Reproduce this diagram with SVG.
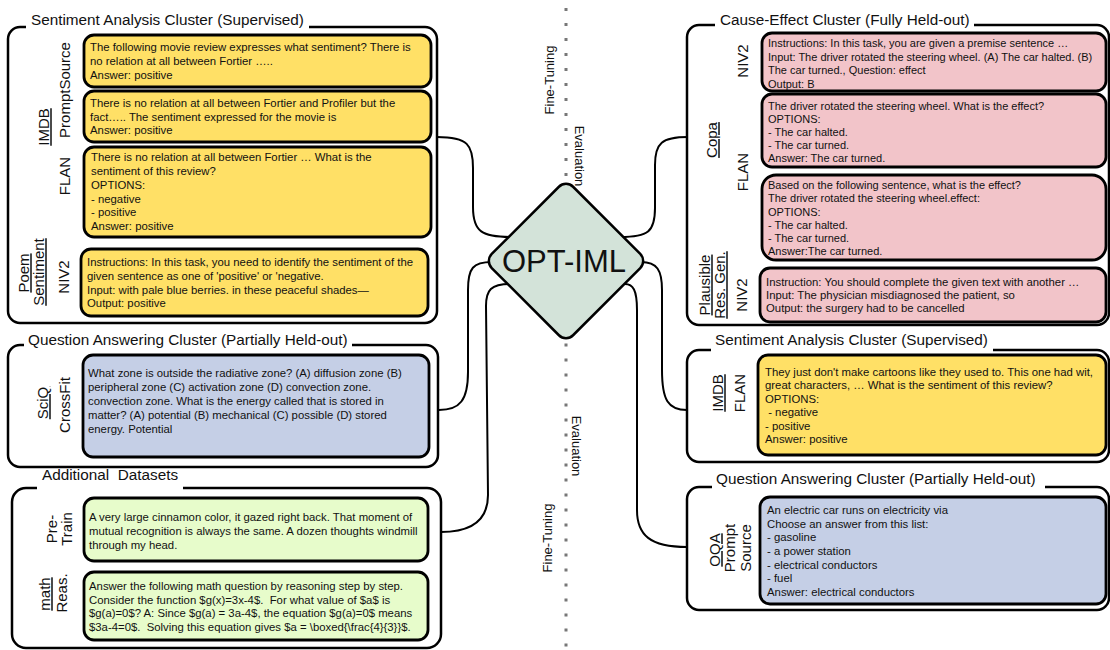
<svg xmlns="http://www.w3.org/2000/svg" width="1110" height="650" viewBox="0 0 1110 650">
<style>
.ob{fill:#fff;stroke:#000;stroke-width:2.5}
.ib{stroke:#000;stroke-width:2.8}
.y{fill:#FFE066}
.p{fill:#F2C4C9}
.b{fill:#C5CFE6}
.g{fill:#E7FCCB}
.bg{fill:#fff}
.t{font-family:"Liberation Sans",Arial,sans-serif;font-size:11.35px;fill:#111;white-space:pre}
.tc{font-family:"Liberation Sans",Arial,sans-serif;font-size:11px;fill:#111;white-space:pre}
.ttl{font-family:"Liberation Sans",Arial,sans-serif;font-size:15.3px;fill:#111;white-space:pre}
.lb{font-family:"Liberation Sans",Arial,sans-serif;font-size:15px;fill:#111;text-anchor:middle}
.u{text-decoration:underline}
.sm{font-family:"Liberation Sans",Arial,sans-serif;font-size:13px;fill:#111;text-anchor:middle}
.conn{fill:none;stroke:#000;stroke-width:2}
.dot{fill:none;stroke:#777;stroke-width:3;stroke-dasharray:3 12}
</style>

<g id="connectors">
<path class="conn" d="M437,137 C468,137 473,145 473,168 L473,207 C473,232 482,237 512,237"/>
<path class="conn" d="M620,237 C648,237 655,232 655,208 L655,165 C655,143 662,137 688,137"/>
<path class="conn" d="M492,262 C473,262 468,268 468,290 L468,372 C468,400 460,410 439,410"/>
<path class="conn" d="M510,284 C491,284 486,290 486,306 L488,495 C488,520 472,532 441,532"/>
<path class="conn" d="M641,262 C657,262 662,270 662,290 L662,370 C662,400 668,410 687,410"/>
<path class="conn" d="M625,284 C633,284 637,290 637,310 L637,510 C637,535 650,547 687,547"/>
</g>

<g id="divider">
<line class="dot" x1="566" y1="8" x2="566" y2="185"/>
<line class="dot" x1="566" y1="343.5" x2="566" y2="650"/>
<text class="sm" transform="translate(549,80) rotate(-90)" dy="0.35em">Fine-Tuning</text>
<text class="sm" transform="translate(580,156) rotate(90)" dy="0.35em">Evaluation</text>
<text class="sm" transform="translate(577,446) rotate(90)" dy="0.35em">Evaluation</text>
<text class="sm" transform="translate(547,538) rotate(-90)" dy="0.35em">Fine-Tuning</text>
</g>

<g id="opt-iml">
<rect x="-57.5" y="-57.5" width="115" height="115" rx="10" transform="translate(566,261) rotate(45)" fill="#D3E3D9" stroke="#000" stroke-width="2.5"/>
<text x="564" y="272" font-family="Liberation Sans, Arial, sans-serif" font-size="31" text-anchor="middle" fill="#111">OPT-IML</text>
</g>

<g id="left-sentiment">
<rect class="ob" x="8" y="27" width="429" height="296" rx="12"/>
<rect class="bg" x="26" y="14" width="283" height="18"/>
<text class="ttl" x="31" y="25">Sentiment Analysis Cluster (Supervised)</text>
<rect class="ib y" x="84" y="35" width="347" height="52" rx="10"/>
<text class="t" x="90" y="51">The following movie review expresses what sentiment? There is</text>
<text class="t" x="90" y="65">no relation at all between Fortier …..</text>
<text class="t" x="90" y="79">Answer: positive</text>
<rect class="ib y" x="84" y="91" width="347" height="51" rx="10"/>
<text class="t" x="90" y="107">There is no relation at all between Fortier and Profiler but the</text>
<text class="t" x="90" y="121">fact….. The sentiment expressed for the movie is</text>
<text class="t" x="90" y="134">Answer: positive</text>
<rect class="ib y" x="84" y="147" width="347" height="90" rx="10"/>
<text class="t" x="91" y="161">There is no relation at all between Fortier … What is the</text>
<text class="t" x="91" y="175">sentiment of this review?</text>
<text class="t" x="91" y="189">OPTIONS:</text>
<text class="t" x="91" y="202.5">- negative</text>
<text class="t" x="91" y="216">- positive</text>
<text class="t" x="91" y="230">Answer: positive</text>
<rect class="ib y" x="81" y="249" width="347" height="67" rx="10"/>
<text class="t" x="87" y="266">Instructions: In this task, you need to identify the sentiment of the</text>
<text class="t" x="87" y="280">given sentence as one of 'positive' or 'negative.</text>
<text class="t" x="87" y="294">Input: with pale blue berries. in these peaceful shades—</text>
<text class="t" x="87" y="307">Output: positive</text>
<text class="lb" transform="translate(65,90) rotate(-90)" dy="0.35em">PromptSource</text>
<text class="lb u" transform="translate(44,127) rotate(-90)" dy="0.35em">IMDB</text>
<text class="lb" transform="translate(65,176) rotate(-90)" dy="0.35em">FLAN</text>
<text class="lb u" transform="translate(24,273) rotate(-90)" dy="0.35em">Poem</text>
<text class="lb u" transform="translate(39,272) rotate(-90)" dy="0.35em">Sentiment</text>
<text class="lb" transform="translate(64,277) rotate(-90)" dy="0.35em">NIV2</text>
</g>

<g id="left-qa">
<rect class="ob" x="8" y="345" width="430" height="122" rx="12"/>
<rect class="bg" x="24" y="332" width="328" height="18"/>
<text class="ttl" x="28" y="345">Question Answering Cluster (Partially Held-out)</text>
<rect class="ib b" x="83" y="355" width="346" height="102" rx="10"/>
<text class="t" x="88" y="377">What zone is outside the radiative zone? (A) diffusion zone (B)</text>
<text class="t" x="88" y="391">peripheral zone (C) activation zone (D) convection zone.</text>
<text class="t" x="88" y="405">convection zone. What is the energy called that is stored in</text>
<text class="t" x="88" y="419">matter? (A) potential (B) mechanical (C) possible (D) stored</text>
<text class="t" x="88" y="433">energy. Potential</text>
<text class="lb u" transform="translate(43,403) rotate(-90)" dy="0.35em">SciQ</text>
<text class="lb" transform="translate(65,405) rotate(-90)" dy="0.35em">CrossFit</text>
</g>

<g id="left-additional">
<rect class="ob" x="12" y="488" width="429" height="160" rx="14"/>
<rect class="bg" x="37" y="470" width="146" height="22"/>
<text class="ttl" x="42" y="480">Additional  Datasets</text>
<rect class="ib g" x="84" y="498" width="344" height="63" rx="10"/>
<text class="t" x="89" y="521">A very large cinnamon color, it gazed right back. That moment of</text>
<text class="t" x="89" y="535">mutual recognition is always the same. A dozen thoughts windmill</text>
<text class="t" x="89" y="549">through my head.</text>
<rect class="ib g" x="84" y="572" width="344" height="68" rx="10"/>
<text class="t" x="89" y="590">Answer the following math question by reasoning step by step.</text>
<text class="t" x="89" y="604">Consider the function $g(x)=3x-4$.  For what value of $a$ is</text>
<text class="t" x="89" y="617">$g(a)=0$? A: Since $g(a) = 3a-4$, the equation $g(a)=0$ means</text>
<text class="t" x="89" y="631">$3a-4=0$.  Solving this equation gives $a = \boxed{\frac{4}{3}}$.</text>
<text class="lb" transform="translate(52,529) rotate(-90)" dy="0.35em">Pre-</text>
<text class="lb" transform="translate(67,529) rotate(-90)" dy="0.35em">Train</text>
<text class="lb u" transform="translate(45,594) rotate(-90)" dy="0.35em">math</text>
<text class="lb" transform="translate(62,593) rotate(-90)" dy="0.35em">Reas.</text>
</g>

<g id="right-cause-effect">
<rect class="ob" x="687" y="25" width="422" height="300" rx="12"/>
<rect class="bg" x="715" y="12" width="259" height="18"/>
<text class="ttl" x="720" y="25">Cause-Effect Cluster (Fully Held-out)</text>
<rect class="ib p" x="762" y="33" width="344" height="58" rx="10"/>
<text class="tc" x="768" y="47">Instructions: In this task, you are given a premise sentence …</text>
<text class="tc" x="768" y="60.5">Input: The driver rotated the steering wheel. (A) The car halted. (B)</text>
<text class="tc" x="768" y="74">The car turned., Question: effect</text>
<text class="tc" x="768" y="87.5">Output: B</text>
<rect class="ib p" x="762" y="94" width="344" height="73" rx="10"/>
<text class="tc" x="768" y="110">The driver rotated the steering wheel. What is the effect?</text>
<text class="tc" x="768" y="123">OPTIONS:</text>
<text class="tc" x="768" y="136">- The car halted.</text>
<text class="tc" x="768" y="149">- The car turned.</text>
<text class="tc" x="768" y="162">Answer: The car turned.</text>
<rect class="ib p" x="762" y="175" width="344" height="85" rx="14"/>
<text class="tc" x="768" y="189">Based on the following sentence, what is the effect?</text>
<text class="tc" x="768" y="202">The driver rotated the steering wheel.effect:</text>
<text class="tc" x="768" y="216">OPTIONS:</text>
<text class="tc" x="768" y="229">- The car halted.</text>
<text class="tc" x="768" y="242">- The car turned.</text>
<text class="tc" x="768" y="255">Answer:The car turned.</text>
<rect class="ib p" x="760" y="268" width="346" height="54" rx="10"/>
<text class="t" x="766" y="286">Instruction: You should complete the given text with another …</text>
<text class="t" x="766" y="299">Input: The physician misdiagnosed the patient, so</text>
<text class="t" x="766" y="312">Output: the surgery had to be cancelled</text>
<text class="lb" transform="translate(743,61) rotate(-90)" dy="0.35em">NIV2</text>
<text class="lb u" transform="translate(712,140) rotate(-90)" dy="0.35em">Copa</text>
<text class="lb" transform="translate(743,172) rotate(-90)" dy="0.35em">FLAN</text>
<text class="lb u" transform="translate(705,285) rotate(-90)" dy="0.35em">Plausible</text>
<text class="lb u" transform="translate(720,285) rotate(-90)" dy="0.35em">Res. Gen.</text>
<text class="lb" transform="translate(742,295) rotate(-90)" dy="0.35em">NIV2</text>
</g>

<g id="right-sentiment">
<rect class="ob" x="687" y="350" width="422" height="112" rx="12"/>
<rect class="bg" x="711" y="332" width="282" height="22"/>
<text class="ttl" x="715" y="345">Sentiment Analysis Cluster (Supervised)</text>
<rect class="ib y" x="758" y="355" width="348" height="100" rx="10"/>
<text class="t" x="765" y="376">They just don't make cartoons like they used to. This one had wit,</text>
<text class="t" x="765" y="389">great characters, … What is the sentiment of this review?</text>
<text class="t" x="765" y="402.5">OPTIONS:</text>
<text class="t" x="765" y="416"> - negative</text>
<text class="t" x="765" y="430">- positive</text>
<text class="t" x="765" y="443">Answer: positive</text>
<text class="lb u" transform="translate(718,393) rotate(-90)" dy="0.35em">IMDB</text>
<text class="lb" transform="translate(740,393) rotate(-90)" dy="0.35em">FLAN</text>
</g>

<g id="right-qa">
<rect class="ob" x="687" y="487" width="422" height="123" rx="12"/>
<rect class="bg" x="712" y="470" width="333" height="22"/>
<text class="ttl" x="716" y="484">Question Answering Cluster (Partially Held-out)</text>
<rect class="ib b" x="760" y="497" width="346" height="107" rx="10"/>
<text class="t" x="767" y="514">An electric car runs on electricity via</text>
<text class="t" x="767" y="528">Choose an answer from this list:</text>
<text class="t" x="767" y="541">- gasoline</text>
<text class="t" x="767" y="555">- a power station</text>
<text class="t" x="767" y="569">- electrical conductors</text>
<text class="t" x="767" y="582">- fuel</text>
<text class="t" x="767" y="596">Answer: electrical conductors</text>
<text class="lb u" transform="translate(715,550) rotate(-90)" dy="0.35em">OQA</text>
<text class="lb" transform="translate(730,548) rotate(-90)" dy="0.35em">Prompt</text>
<text class="lb" transform="translate(746,548) rotate(-90)" dy="0.35em">Source</text>
</g>
</svg>
